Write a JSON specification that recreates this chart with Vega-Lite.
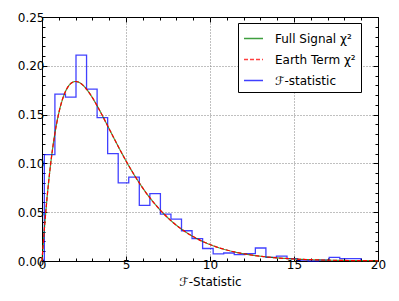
{
  "$schema": "https://vega.github.io/schema/vega-lite/v6.json",
  "width": 336,
  "height": 244,
  "autosize": {"type": "none"},
  "padding": {"left": 42, "top": 17, "right": 21, "bottom": 40},
  "config": {
    "view": {"stroke": "black", "strokeWidth": 1},
    "font": "DejaVu Sans",
    "axis": {
      "domain": false,
      "labelFont": "DejaVu Sans",
      "labelFontSize": 12,
      "labelColor": "black",
      "tickColor": "black",
      "tickWidth": 1,
      "titleFont": "DejaVu Sans",
      "titleFontSize": 12,
      "titleFontWeight": "normal",
      "titleColor": "black",
      "labelOverlap": false,
      "labelBound": false,
      "labelFlush": false
    }
  },
  "datasets": {
    "hist": [
      {"i": 0, "x": 0.14, "y": 0, "series": "ℱ-statistic"},
      {"i": 1, "x": 0.14, "y": 0.109, "series": "ℱ-statistic"},
      {"i": 2, "x": 0.768, "y": 0.171, "series": "ℱ-statistic"},
      {"i": 3, "x": 1.396, "y": 0.168, "series": "ℱ-statistic"},
      {"i": 4, "x": 2.024, "y": 0.211, "series": "ℱ-statistic"},
      {"i": 5, "x": 2.652, "y": 0.176, "series": "ℱ-statistic"},
      {"i": 6, "x": 3.28, "y": 0.147, "series": "ℱ-statistic"},
      {"i": 7, "x": 3.908, "y": 0.110, "series": "ℱ-statistic"},
      {"i": 8, "x": 4.536, "y": 0.080, "series": "ℱ-statistic"},
      {"i": 9, "x": 5.164, "y": 0.086, "series": "ℱ-statistic"},
      {"i": 10, "x": 5.792, "y": 0.057, "series": "ℱ-statistic"},
      {"i": 11, "x": 6.42, "y": 0.069, "series": "ℱ-statistic"},
      {"i": 12, "x": 7.048, "y": 0.048, "series": "ℱ-statistic"},
      {"i": 13, "x": 7.676, "y": 0.043, "series": "ℱ-statistic"},
      {"i": 14, "x": 8.304, "y": 0.031, "series": "ℱ-statistic"},
      {"i": 15, "x": 8.932, "y": 0.023, "series": "ℱ-statistic"},
      {"i": 16, "x": 9.56, "y": 0.0128, "series": "ℱ-statistic"},
      {"i": 17, "x": 10.188, "y": 0.0072, "series": "ℱ-statistic"},
      {"i": 18, "x": 10.816, "y": 0.0082, "series": "ℱ-statistic"},
      {"i": 19, "x": 11.444, "y": 0.0066, "series": "ℱ-statistic"},
      {"i": 20, "x": 12.072, "y": 0.0076, "series": "ℱ-statistic"},
      {"i": 21, "x": 12.7, "y": 0.0133, "series": "ℱ-statistic"},
      {"i": 22, "x": 13.328, "y": 0.0037, "series": "ℱ-statistic"},
      {"i": 23, "x": 13.956, "y": 0.005, "series": "ℱ-statistic"},
      {"i": 24, "x": 14.584, "y": 0.0024, "series": "ℱ-statistic"},
      {"i": 25, "x": 15.212, "y": 0.0008, "series": "ℱ-statistic"},
      {"i": 26, "x": 15.84, "y": 0, "series": "ℱ-statistic"},
      {"i": 27, "x": 16.468, "y": 0.0008, "series": "ℱ-statistic"},
      {"i": 28, "x": 17.096, "y": 0.0037, "series": "ℱ-statistic"},
      {"i": 29, "x": 17.724, "y": 0.0024, "series": "ℱ-statistic"},
      {"i": 30, "x": 18.352, "y": 0.0024, "series": "ℱ-statistic"},
      {"i": 31, "x": 18.98, "y": 0.0024, "series": "ℱ-statistic"},
      {"i": 32, "x": 18.98, "y": 0, "series": "ℱ-statistic"}
    ],
    "full": [
      {"x": 0, "y": 0, "series": "Full Signal χ²"},
      {"x": 0.05, "y": 0.01219, "series": "Full Signal χ²"},
      {"x": 0.1, "y": 0.02378, "series": "Full Signal χ²"},
      {"x": 0.25, "y": 0.05516, "series": "Full Signal χ²"},
      {"x": 0.5, "y": 0.09735, "series": "Full Signal χ²"},
      {"x": 0.75, "y": 0.12887, "series": "Full Signal χ²"},
      {"x": 1, "y": 0.15163, "series": "Full Signal χ²"},
      {"x": 1.25, "y": 0.16727, "series": "Full Signal χ²"},
      {"x": 1.5, "y": 0.17714, "series": "Full Signal χ²"},
      {"x": 1.75, "y": 0.18238, "series": "Full Signal χ²"},
      {"x": 2, "y": 0.18394, "series": "Full Signal χ²"},
      {"x": 2.25, "y": 0.18262, "series": "Full Signal χ²"},
      {"x": 2.5, "y": 0.17906, "series": "Full Signal χ²"},
      {"x": 2.75, "y": 0.17383, "series": "Full Signal χ²"},
      {"x": 3, "y": 0.16735, "series": "Full Signal χ²"},
      {"x": 3.25, "y": 0.15999, "series": "Full Signal χ²"},
      {"x": 3.5, "y": 0.15205, "series": "Full Signal χ²"},
      {"x": 3.75, "y": 0.14377, "series": "Full Signal χ²"},
      {"x": 4, "y": 0.13534, "series": "Full Signal χ²"},
      {"x": 4.5, "y": 0.11858, "series": "Full Signal χ²"},
      {"x": 5, "y": 0.10261, "series": "Full Signal χ²"},
      {"x": 5.5, "y": 0.0879, "series": "Full Signal χ²"},
      {"x": 6, "y": 0.07468, "series": "Full Signal χ²"},
      {"x": 6.5, "y": 0.06301, "series": "Full Signal χ²"},
      {"x": 7, "y": 0.05284, "series": "Full Signal χ²"},
      {"x": 7.5, "y": 0.0441, "series": "Full Signal χ²"},
      {"x": 8, "y": 0.03663, "series": "Full Signal χ²"},
      {"x": 8.5, "y": 0.03031, "series": "Full Signal χ²"},
      {"x": 9, "y": 0.025, "series": "Full Signal χ²"},
      {"x": 9.5, "y": 0.02055, "series": "Full Signal χ²"},
      {"x": 10, "y": 0.01684, "series": "Full Signal χ²"},
      {"x": 10.5, "y": 0.01377, "series": "Full Signal χ²"},
      {"x": 11, "y": 0.01124, "series": "Full Signal χ²"},
      {"x": 11.5, "y": 0.00915, "series": "Full Signal χ²"},
      {"x": 12, "y": 0.00744, "series": "Full Signal χ²"},
      {"x": 13, "y": 0.00489, "series": "Full Signal χ²"},
      {"x": 14, "y": 0.00319, "series": "Full Signal χ²"},
      {"x": 15, "y": 0.00207, "series": "Full Signal χ²"},
      {"x": 16, "y": 0.00134, "series": "Full Signal χ²"},
      {"x": 17, "y": 0.00086, "series": "Full Signal χ²"},
      {"x": 18, "y": 0.00056, "series": "Full Signal χ²"},
      {"x": 19, "y": 0.00036, "series": "Full Signal χ²"},
      {"x": 20, "y": 0.00023, "series": "Full Signal χ²"}
    ],
    "earth": [
      {"x": 0, "y": 0, "series": "Earth Term χ²"},
      {"x": 0.05, "y": 0.01219, "series": "Earth Term χ²"},
      {"x": 0.1, "y": 0.02378, "series": "Earth Term χ²"},
      {"x": 0.25, "y": 0.05516, "series": "Earth Term χ²"},
      {"x": 0.5, "y": 0.09735, "series": "Earth Term χ²"},
      {"x": 0.75, "y": 0.12887, "series": "Earth Term χ²"},
      {"x": 1, "y": 0.15163, "series": "Earth Term χ²"},
      {"x": 1.25, "y": 0.16727, "series": "Earth Term χ²"},
      {"x": 1.5, "y": 0.17714, "series": "Earth Term χ²"},
      {"x": 1.75, "y": 0.18238, "series": "Earth Term χ²"},
      {"x": 2, "y": 0.18394, "series": "Earth Term χ²"},
      {"x": 2.25, "y": 0.18262, "series": "Earth Term χ²"},
      {"x": 2.5, "y": 0.17906, "series": "Earth Term χ²"},
      {"x": 2.75, "y": 0.17383, "series": "Earth Term χ²"},
      {"x": 3, "y": 0.16735, "series": "Earth Term χ²"},
      {"x": 3.25, "y": 0.15999, "series": "Earth Term χ²"},
      {"x": 3.5, "y": 0.15205, "series": "Earth Term χ²"},
      {"x": 3.75, "y": 0.14377, "series": "Earth Term χ²"},
      {"x": 4, "y": 0.13534, "series": "Earth Term χ²"},
      {"x": 4.5, "y": 0.11858, "series": "Earth Term χ²"},
      {"x": 5, "y": 0.10261, "series": "Earth Term χ²"},
      {"x": 5.5, "y": 0.0879, "series": "Earth Term χ²"},
      {"x": 6, "y": 0.07468, "series": "Earth Term χ²"},
      {"x": 6.5, "y": 0.06301, "series": "Earth Term χ²"},
      {"x": 7, "y": 0.05284, "series": "Earth Term χ²"},
      {"x": 7.5, "y": 0.0441, "series": "Earth Term χ²"},
      {"x": 8, "y": 0.03663, "series": "Earth Term χ²"},
      {"x": 8.5, "y": 0.03031, "series": "Earth Term χ²"},
      {"x": 9, "y": 0.025, "series": "Earth Term χ²"},
      {"x": 9.5, "y": 0.02055, "series": "Earth Term χ²"},
      {"x": 10, "y": 0.01684, "series": "Earth Term χ²"},
      {"x": 10.5, "y": 0.01377, "series": "Earth Term χ²"},
      {"x": 11, "y": 0.01124, "series": "Earth Term χ²"},
      {"x": 11.5, "y": 0.00915, "series": "Earth Term χ²"},
      {"x": 12, "y": 0.00744, "series": "Earth Term χ²"},
      {"x": 13, "y": 0.00489, "series": "Earth Term χ²"},
      {"x": 14, "y": 0.00319, "series": "Earth Term χ²"},
      {"x": 15, "y": 0.00207, "series": "Earth Term χ²"},
      {"x": 16, "y": 0.00134, "series": "Earth Term χ²"},
      {"x": 17, "y": 0.00086, "series": "Earth Term χ²"},
      {"x": 18, "y": 0.00056, "series": "Earth Term χ²"},
      {"x": 19, "y": 0.00036, "series": "Earth Term χ²"},
      {"x": 20, "y": 0.00023, "series": "Earth Term χ²"}
    ]
  },
  "layer": [
    {
      "data": {"name": "hist"},
      "mark": {"type": "line", "interpolate": "step-after", "strokeWidth": 1.3, "opacity": 0.75},
      "encoding": {
        "x": {
          "field": "x", "type": "quantitative",
          "scale": {"domain": [0, 20], "nice": false, "zero": false},
          "axis": {
            "orient": "bottom",
            "values": [0,1,2,3,4,5,6,7,8,9,10,11,12,13,14,15,16,17,18,19,20],
            "labelExpr": "datum.value % 5 === 0 ? format(datum.value, 'd') : ''",
            "tickSize": {"condition": {"test": "datum.value % 5 === 0", "value": -5}, "value": -3},
            "labelPadding": 3,
            "grid": true,
            "gridColor": "#808080",
            "gridDash": [1, 2],
            "gridOpacity": {"condition": {"test": "datum.value % 5 === 0 && datum.value > 0 && datum.value < 20", "value": 1}, "value": 0},
            "title": "ℱ-Statistic",
            "titlePadding": 4
          }
        },
        "y": {
          "field": "y", "type": "quantitative",
          "scale": {"domain": [0, 0.25], "nice": false, "zero": false},
          "axis": {
            "orient": "left",
            "values": [0,0.01,0.02,0.03,0.04,0.05,0.06,0.07,0.08,0.09,0.1,0.11,0.12,0.13,0.14,0.15,0.16,0.17,0.18,0.19,0.2,0.21,0.22,0.23,0.24,0.25],
            "labelExpr": "round(datum.value * 100) % 5 === 0 ? format(datum.value, '.2f') : ''",
            "tickSize": {"condition": {"test": "round(datum.value * 100) % 5 === 0", "value": -5}, "value": -3},
            "labelPadding": 3,
            "grid": true,
            "gridColor": "#808080",
            "gridDash": [1, 2],
            "gridOpacity": {"condition": {"test": "round(datum.value * 100) % 5 === 0 && datum.value > 0.001 && datum.value < 0.249", "value": 1}, "value": 0},
            "title": null
          }
        },
        "order": {"field": "i", "type": "quantitative"},
        "strokeDash": {
          "field": "series", "type": "nominal",
          "scale": {"domain": ["Full Signal χ²", "Earth Term χ²", "ℱ-statistic"], "range": [[1, 0], [4, 2], [1, 0]]}
        },
        "color": {
          "field": "series", "type": "nominal",
          "scale": {"domain": ["Full Signal χ²", "Earth Term χ²", "ℱ-statistic"], "range": ["#008000", "#ff0000", "#0000ff"]},
          "legend": {
            "title": null,
            "orient": "none",
            "legendX": 196,
            "legendY": 6,
            "strokeColor": "black",
            "fillColor": "white",
            "padding": 5,
            "cornerRadius": 0,
            "labelFont": "DejaVu Sans",
            "labelFontSize": 12,
            "labelColor": "black",
            "symbolSize": 361,
            "symbolStrokeWidth": 1.5,
            "labelOffset": 11,
            "rowPadding": 4,
            "encode": {
              "symbols": {
                "update": {
                  "shape": {"signal": "datum.value === 'ℱ-statistic' ? 'M-1.3,-0.42H1.3V0.42H-1.3Z' : 'stroke'"},
                  "fill": {"value": "white"},
                  "opacity": {"signal": "datum.value === 'Earth Term χ²' ? 1 : 0.6"}
                }
              }
            }
          }
        }
      }
    },
    {
      "data": {"name": "full"},
      "mark": {"type": "line", "interpolate": "monotone", "strokeWidth": 1.2, "opacity": 0.75},
      "encoding": {
        "x": {
          "field": "x", "type": "quantitative",
          "axis": {
            "orient": "top",
            "values": [0,1,2,3,4,5,6,7,8,9,10,11,12,13,14,15,16,17,18,19,20],
            "labels": false,
            "tickSize": {"condition": {"test": "datum.value % 5 === 0", "value": -5}, "value": -3},
            "grid": false,
            "title": null
          }
        },
        "y": {
          "field": "y", "type": "quantitative",
          "axis": {
            "orient": "right",
            "values": [0,0.01,0.02,0.03,0.04,0.05,0.06,0.07,0.08,0.09,0.1,0.11,0.12,0.13,0.14,0.15,0.16,0.17,0.18,0.19,0.2,0.21,0.22,0.23,0.24,0.25],
            "labels": false,
            "tickSize": {"condition": {"test": "round(datum.value * 100) % 5 === 0", "value": -5}, "value": -3},
            "grid": false,
            "title": null
          }
        },
        "strokeDash": {"field": "series", "type": "nominal"},
        "color": {"field": "series", "type": "nominal"}
      }
    },
    {
      "data": {"name": "earth"},
      "mark": {"type": "line", "interpolate": "monotone", "strokeWidth": 1.2},
      "encoding": {
        "x": {"field": "x", "type": "quantitative", "axis": null},
        "y": {"field": "y", "type": "quantitative", "axis": null},
        "strokeDash": {"field": "series", "type": "nominal"},
        "color": {"field": "series", "type": "nominal"}
      }
    }
  ],
  "resolve": {"axis": {"x": "independent", "y": "independent"}}
}
